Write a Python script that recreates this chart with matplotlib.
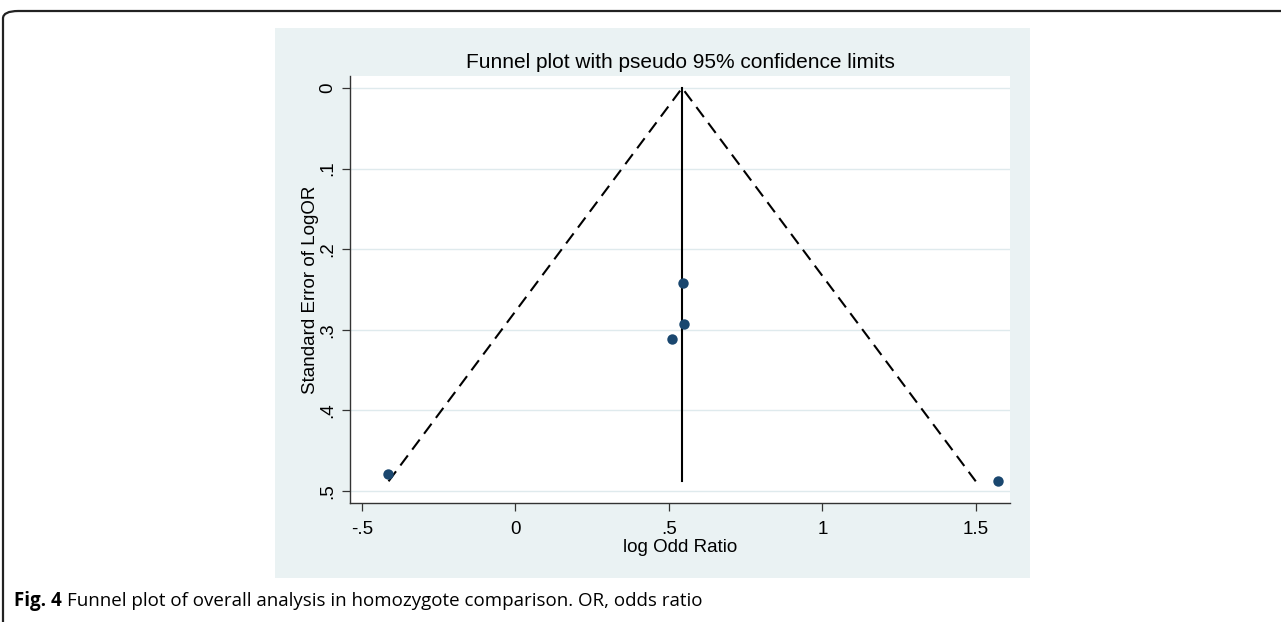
import numpy as np
import matplotlib
matplotlib.use("Agg")
import matplotlib.pyplot as plt
from matplotlib.patches import Rectangle, FancyBboxPatch

# study estimates
log_or = [-0.415, 0.547, 0.549, 0.509, 1.572]
se_log_or = [0.479, 0.242, 0.293, 0.311, 0.488]
pooled = 0.543

x_ticks = [-0.5, 0, 0.5, 1, 1.5]
x_tick_labels = ["-.5", "0", ".5", "1", "1.5"]
y_ticks = [0, 0.1, 0.2, 0.3, 0.4, 0.5]
y_tick_labels = ["0", ".1", ".2", ".3", ".4", ".5"]

title = "Funnel plot with pseudo 95% confidence limits"
x_label = "log Odd Ratio"
y_label = "Standard Error of LogOR"
caption_bold = "Fig. 4"
caption_rest = "Funnel plot of overall analysis in homozygote comparison. OR, odds ratio"

W, H = 1281, 622
fig = plt.figure(figsize=(W / 100, H / 100), dpi=100)
fig.patch.set_facecolor("white")

# outer article frame (rounded, runs off right / bottom)
frame = FancyBboxPatch((3 / W, -20 / H), 1.2, (H - 11 + 20) / H,
                       boxstyle="round,pad=0,rounding_size=0.012",
                       transform=fig.transFigure, fill=False,
                       edgecolor="#222222", linewidth=1.6, clip_on=False,
                       zorder=-2)
fig.patches.append(frame)

# stata graph region
region = Rectangle((275 / W, 1 - 578 / H), 755 / W, 550 / H,
                   transform=fig.transFigure, facecolor="#eaf2f3",
                   edgecolor="none", zorder=-1)
fig.patches.append(region)

ax = fig.add_axes([350 / W, 1 - 503 / H, 660 / W, 427 / H])
ax.set_facecolor("white")

se_max = max(se_log_or)
lo = pooled - 1.96 * se_max
hi = pooled + 1.96 * se_max
ax.plot([lo, pooled, hi], [se_max, 0, se_max], color="black", lw=1.5,
        dashes=(6, 3.5), zorder=2)
ax.plot([pooled, pooled], [0, se_max], color="black", lw=1.5, zorder=2)
ax.plot(log_or, se_log_or, "o", color="#1a476f", markersize=7.5,
        markeredgewidth=0, zorder=3)

ax.set_xlim(-0.539, 1.611)
ax.set_ylim(0.5149, -0.0149)
ax.set_xticks(x_ticks)
ax.set_xticklabels(x_tick_labels)
ax.set_yticks(y_ticks)
ax.set_yticklabels(y_tick_labels, rotation=90, va="center")
ax.yaxis.grid(True, color="#dfeaed", lw=1.0)
ax.set_axisbelow(True)

for s in ["top", "right"]:
    ax.spines[s].set_visible(False)
for s in ["left", "bottom"]:
    ax.spines[s].set_color("#333333")
    ax.spines[s].set_linewidth(1.0)

font = "Liberation Sans"
ax.tick_params(axis="both", direction="out", length=6, width=0.9,
               color="#333333", labelsize=13.5, labelfontfamily=font)
ax.tick_params(axis="x", pad=7)
ax.tick_params(axis="y", pad=4)

ax.set_xlabel(x_label, fontsize=13.5, family=font, labelpad=1)
ax.set_ylabel(y_label, fontsize=13.5, family=font, labelpad=0)
fig.text(680 / W, 1 - 62 / H, title, ha="center", va="center",
         fontsize=15, family=font)

fig.canvas.draw()
t1 = fig.text(14 / W, 1 - 601 / H, caption_bold, ha="left", va="center",
              fontsize=13.5, family="Open Sans", fontweight="bold")
fig.canvas.draw()
bb = t1.get_window_extent()
fig.text((bb.x1 + 5) / W, 1 - 601 / H, caption_rest, ha="left", va="center",
         fontsize=13.5, family="Open Sans")

fig.savefig("out.png", dpi=100)
